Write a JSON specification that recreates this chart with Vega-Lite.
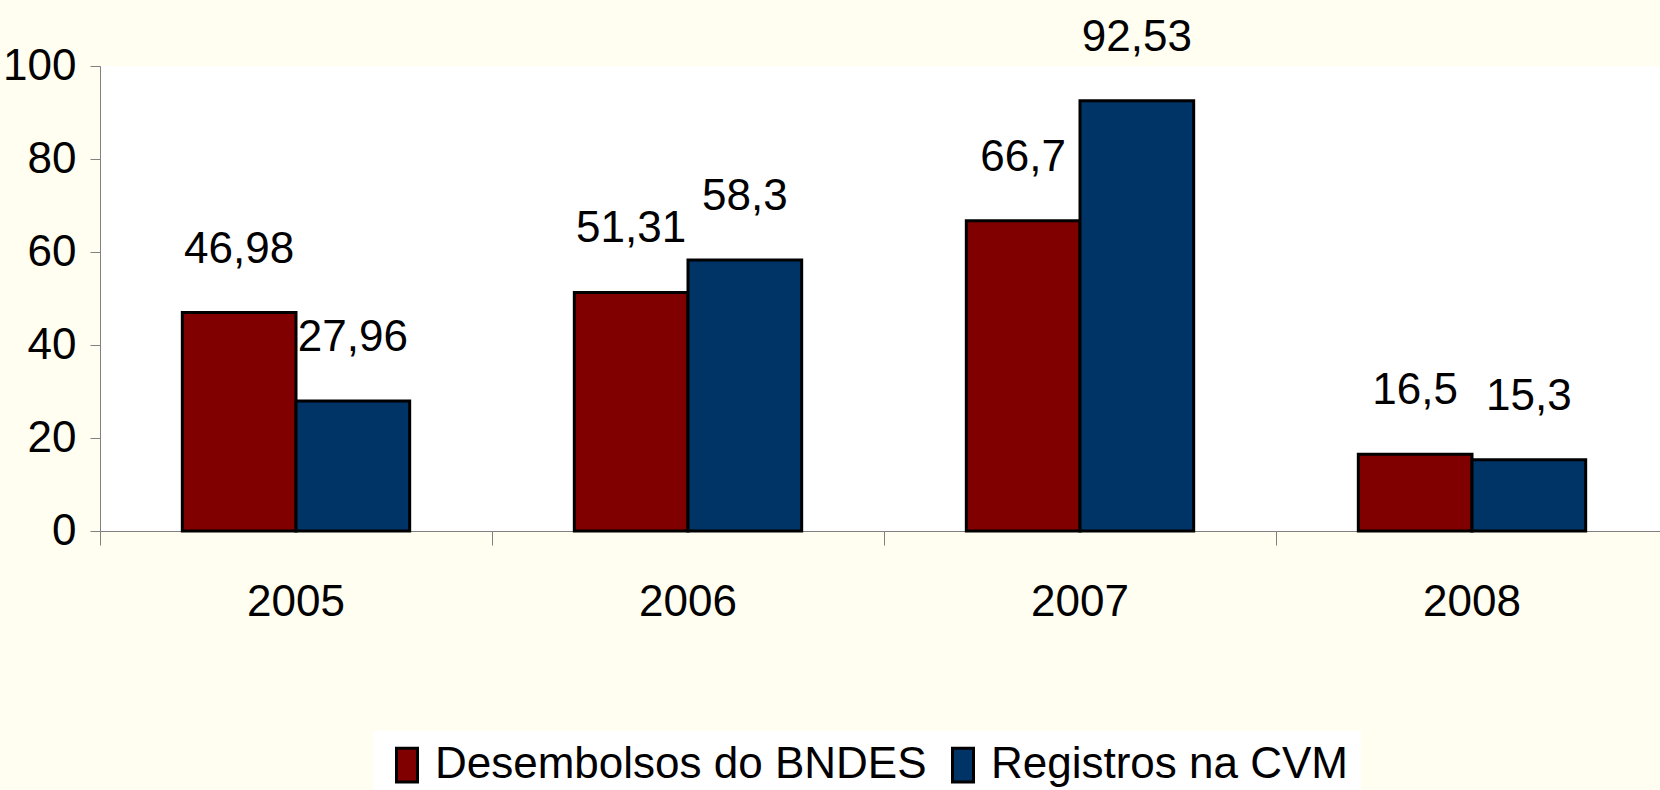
{
  "$schema": "https://vega.github.io/schema/vega-lite/v6.json",
  "autosize": "none",
  "width": 1560,
  "height": 465,
  "padding": {"left": 100, "top": 66, "right": 0, "bottom": 259},
  "background": "#FFFEF0",
  "config": {
    "view": {"fill": "white", "stroke": null},
    "font": "'Liberation Sans Narrow', 'Arial Narrow', 'Liberation Sans', sans-serif",
    "axis": {"labelColor": "black", "labelFont": "'Liberation Sans Narrow', 'Arial Narrow', 'Liberation Sans', sans-serif"},
    "legend": {"labelColor": "black", "labelFont": "'Liberation Sans Narrow', 'Arial Narrow', 'Liberation Sans', sans-serif"}
  },
  "data": {
    "values": [
      {"ano": "2005", "serie": "Desembolsos do BNDES", "valor": 46.98, "rotulo": "46,98"},
      {"ano": "2005", "serie": "Registros na CVM", "valor": 27.96, "rotulo": "27,96"},
      {"ano": "2006", "serie": "Desembolsos do BNDES", "valor": 51.31, "rotulo": "51,31"},
      {"ano": "2006", "serie": "Registros na CVM", "valor": 58.3, "rotulo": "58,3"},
      {"ano": "2007", "serie": "Desembolsos do BNDES", "valor": 66.7, "rotulo": "66,7"},
      {"ano": "2007", "serie": "Registros na CVM", "valor": 92.53, "rotulo": "92,53"},
      {"ano": "2008", "serie": "Desembolsos do BNDES", "valor": 16.5, "rotulo": "16,5"},
      {"ano": "2008", "serie": "Registros na CVM", "valor": 15.3, "rotulo": "15,3"}
    ]
  },
  "encoding": {
    "x": {
      "field": "ano",
      "type": "nominal",
      "scale": {"range": [0, 1568], "paddingInner": 0.42, "paddingOuter": 0.21},
      "axis": {
        "title": null,
        "labelAngle": 0,
        "labelFontSize": 44,
        "labelPadding": 35,
        "tickSize": 14,
        "tickColor": "#808080",
        "domainColor": "#808080",
        "bandPosition": -0.362,
        "grid": false
      }
    },
    "xOffset": {"field": "serie", "sort": ["Desembolsos do BNDES", "Registros na CVM"]},
    "y": {
      "field": "valor",
      "type": "quantitative",
      "scale": {"domain": [0, 100], "nice": false},
      "axis": {
        "title": null,
        "values": [0, 20, 40, 60, 80, 100],
        "labelFontSize": 44,
        "labelPadding": 14,
        "tickSize": 10,
        "tickColor": "#808080",
        "domainColor": "#808080",
        "grid": false
      }
    }
  },
  "layer": [
    {
      "mark": {"type": "bar", "stroke": "black", "strokeWidth": 3},
      "encoding": {
        "color": {
          "field": "serie",
          "type": "nominal",
          "scale": {"domain": ["Desembolsos do BNDES", "Registros na CVM"], "range": ["#800000", "#003366"]},
          "legend": {
            "title": null,
            "orient": "none",
            "legendX": 273,
            "legendY": 665,
            "direction": "horizontal",
            "fillColor": "white",
            "padding": 12,
            "labelFontSize": 44,
            "labelLimit": 0,
            "symbolType": "M-1,-1.6H1V1.6H-1Z",
            "symbolSize": 441,
            "symbolStrokeColor": "black",
            "symbolStrokeWidth": 3,
            "symbolOpacity": 1,
            "labelOffset": 6,
            "columnPadding": 14
          }
        }
      }
    },
    {
      "mark": {"type": "text", "baseline": "alphabetic", "dy": -50, "fontSize": 44, "color": "black"},
      "encoding": {"text": {"field": "rotulo"}}
    }
  ]
}
